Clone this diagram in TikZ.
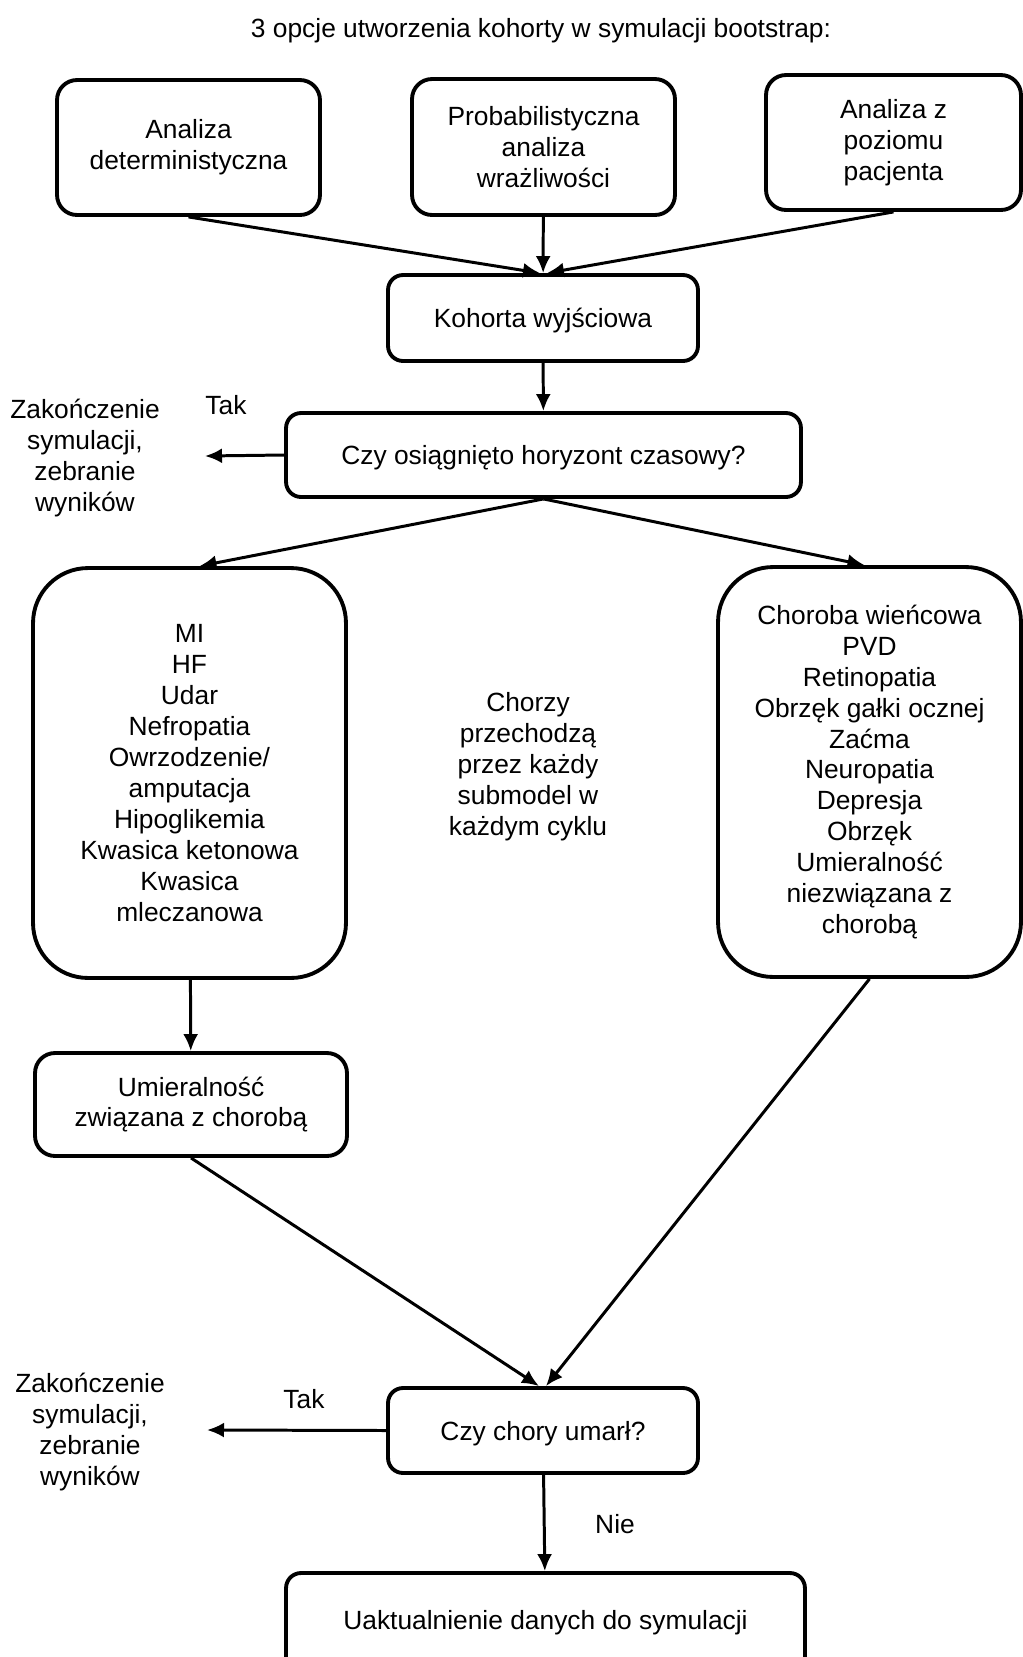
\documentclass[tikz,border=0pt]{standalone}
\usepackage{fontspec}
\setmainfont{Liberation Sans}
\usepackage{tikz}
\usetikzlibrary{arrows.meta}

\begin{document}
\begin{tikzpicture}[x=0.02cm, y=-0.02cm, >={Latex[length=0.34cm,width=0.3cm]}, line width=1.7pt,
		font=\fontsize{15}{17.6}\selectfont,
		main node/.style={rectangle,draw,line width=2.2pt,rounded corners=0.4cm,inner sep=0pt,align=center},
		big node/.style={main node,rounded corners=1.1cm},
		text node/.style={align=center,inner sep=0pt}]
		
		\path[use as bounding box,clip] (0,0) rectangle (1023,1657);
		
		\node[text node] (0) at (541,31) {3 opcje utworzenia kohorty w symulacji bootstrap:};
		
		\node[main node,minimum width=5.26cm,minimum height=2.7cm] (1) at (188.5,147.5) {Analiza\\deterministyczna};
		\node[main node,minimum width=5.26cm,minimum height=2.72cm] (2) at (543.5,147) {Probabilistyczna\\analiza\\wrażliwości};
		\node[main node,minimum width=5.1cm,minimum height=2.7cm] (3) at (893.5,142.5) {Analiza z\\poziomu\\pacjenta};
		\node[main node,rounded corners=0.3cm,text depth=0pt,minimum width=6.2cm,minimum height=1.72cm] (4) at (543,318) {Kohorta wyjściowa};
		\node[main node,rounded corners=0.3cm,text depth=0pt,minimum width=10.3cm,minimum height=1.68cm] (5) at (543.5,455) {Czy osiągnięto horyzont czasowy?};
		\node[text node] (t1) at (85,458) {Zakończenie\\symulacji,\\zebranie\\wyników};
		\node[text node] (y1) at (226,405) {Tak};
		\coordinate (e1) at (205,456);
		
		\node[big node,minimum width=6.26cm,minimum height=8.2cm] (6) at (189.5,773) {MI\\HF\\Udar\\Nefropatia\\Owrzodzenie/\\amputacja\\Hipoglikemia\\Kwasica ketonowa\\Kwasica\\mleczanowa};
		\node[text node] (8) at (528,767) {Chorzy\\przechodzą\\przez każdy\\submodel w\\każdym cyklu};
		\node[big node,minimum width=6.06cm,minimum height=8.2cm] (7) at (869.5,772) {Choroba wieńcowa\\PVD\\Retinopatia\\Obrzęk gałki ocznej\\Zaćma\\Neuropatia\\Depresja\\Obrzęk\\Umieralność\\niezwiązana z\\chorobą};
		\node[main node,minimum width=6.24cm,minimum height=2.06cm] (9) at (191,1104.5) {Umieralność\\związana z chorobą};
		
		\node[main node,rounded corners=0.3cm,text depth=0pt,minimum width=6.2cm,minimum height=1.7cm] (10) at (543,1430.5) {Czy chory umarł?};
		\node[text node] (t2) at (90,1432) {Zakończenie\\symulacji,\\zebranie\\wyników};
		\node[text node] (y2) at (304,1399) {Tak};
		\node[text node] (n2) at (615,1524) {Nie};
		\coordinate (e2) at (207,1430);
		\node[main node,rounded corners=0.3cm,minimum width=10.38cm,minimum height=2cm] (11) at (545.5,1623) {Uaktualnienie danych do symulacji};
		
		\path[->]
		(1.south) edge ([xshift=-0.06cm]4.north)
		(2) edge (4)
		(3.south) edge ([xshift=0.08cm]4.north)
		(4) edge (5)
		(5.west) edge (e1)
		(5.south) edge ([xshift=0.2cm]6.north)
		(5.south) edge ([xshift=-0.1cm]7.north)
		(6) edge (9)
		(9.south) edge ([xshift=-0.08cm]10.north)
		(7.south) edge ([xshift=0.06cm]10.north)
		(10.west) edge (e2)
		(10) edge (11);
\end{tikzpicture}
\end{document}
